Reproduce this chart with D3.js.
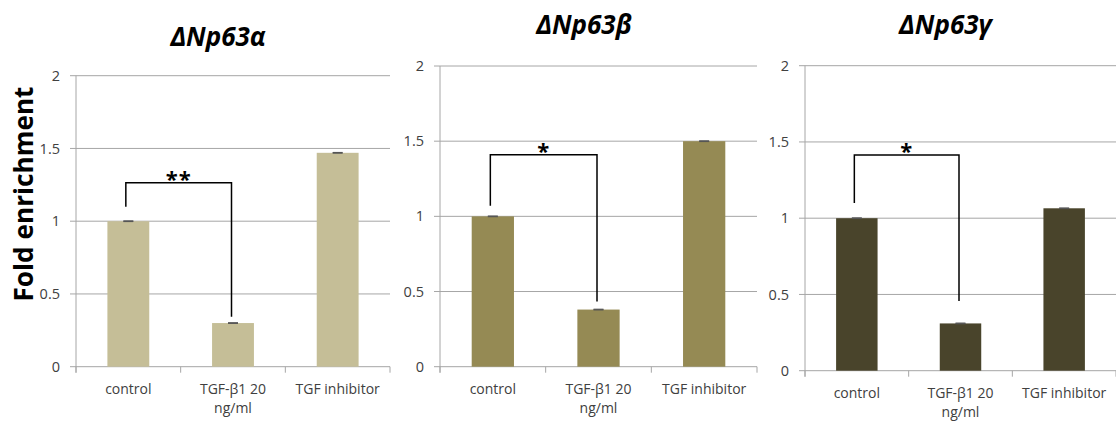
<!DOCTYPE html>
<html>
<head>
<meta charset="utf-8">
<script src="https://cdn.jsdelivr.net/npm/d3@7"></script>
<style>
  html, body { margin: 0; padding: 0; background: #fff; }
  svg { display: block; }
</style>
</head>
<body>
<svg id="chart" width="1116" height="421"></svg>
<script>
// Fold enrichment of ΔNp63 isoforms under TGF-β treatment
const categories = ["control", "TGF-β1 20\nng/ml", "TGF inhibitor"];
const yTicks = [0, 0.5, 1, 1.5, 2];

const alphaValues = [1.00, 0.30, 1.47];
const betaValues  = [1.00, 0.38, 1.50];
const gammaValues = [1.00, 0.31, 1.065];
const errorValues = [0.002, 0.002, 0.002];

const panelTitles = ["ΔNp63α", "ΔNp63β", "ΔNp63γ"];
const panelColors = ["#c5be97", "#958a54", "#49442b"];
// significance brackets: [left foot, top, right foot] in fold units, plus label
const brackets = [
  { feet: [1.10, 1.265, 0.344], label: "**" },
  { feet: [1.07, 1.41, 0.433],  label: "*" },
  { feet: [1.10, 1.414, 0.457], label: "*" }
];
const seriesValues = [alphaValues, betaValues, gammaValues];

// panel frames (pixel layout)
const frames = [
  { left: 76,  right: 390,  bottom: 366.7, top: 75.7, titleX: 218,   titleY: 46 },
  { left: 440, right: 757,  bottom: 366.7, top: 66,   titleX: 584,   titleY: 34 },
  { left: 805, right: 1116, bottom: 370.7, top: 65.7, titleX: 945.5, titleY: 34 }
];

const svg = d3.select("#chart");
const gridColor = "#a6a6a6";
const textFont = "'Open Sans', sans-serif";

frames.forEach((f, i) => {
  const values = seriesValues[i];
  const x = d3.scaleBand().domain(categories).range([f.left, f.right]).padding(0);
  const y = d3.scaleLinear().domain([0, 2]).range([f.bottom, f.top]);
  const g = svg.append("g");

  // horizontal gridlines with short ticks to the left of the axis
  g.selectAll("line.grid").data(yTicks).join("line")
    .attr("x1", f.left - 6).attr("x2", f.right)
    .attr("y1", d => y(d)).attr("y2", d => y(d))
    .attr("stroke", gridColor).attr("stroke-width", 1);

  // y axis line
  g.append("line")
    .attr("x1", f.left).attr("x2", f.left)
    .attr("y1", y(2)).attr("y2", y(0) + 6)
    .attr("stroke", gridColor).attr("stroke-width", 1);

  // x-axis category boundary ticks
  const bounds = categories.map(c => x(c)).concat([f.right]);
  g.selectAll("line.xtick").data(bounds).join("line")
    .attr("x1", d => d).attr("x2", d => d)
    .attr("y1", y(0)).attr("y2", y(0) + 6)
    .attr("stroke", gridColor).attr("stroke-width", 1);

  // y tick labels
  g.selectAll("text.ytl").data(yTicks).join("text")
    .attr("x", f.left - 16).attr("y", d => y(d))
    .attr("dy", "0.35em")
    .attr("text-anchor", "end")
    .attr("font-family", textFont).attr("font-size", 14.5)
    .attr("fill", "#404040")
    .text(d => d3.format("~g")(d));

  // bars
  const barW = x.bandwidth() * 0.4;
  g.selectAll("rect.bar").data(values).join("rect")
    .attr("x", (d, k) => x(categories[k]) + (x.bandwidth() - barW) / 2)
    .attr("y", d => y(d))
    .attr("width", barW)
    .attr("height", d => y(0) - y(d))
    .attr("fill", panelColors[i]);

  // error bars (very small spread)
  values.forEach((v, k) => {
    const cx = x(categories[k]) + x.bandwidth() / 2;
    const e = errorValues[k];
    [v - e, v + e].forEach(ev => {
      g.append("line")
        .attr("x1", cx - 5).attr("x2", cx + 5)
        .attr("y1", y(ev)).attr("y2", y(ev))
        .attr("stroke", "#555").attr("stroke-width", 1.2);
    });
  });

  // category labels
  categories.forEach(c => {
    const t = g.append("text")
      .attr("x", x(c) + x.bandwidth() / 2)
      .attr("y", y(0) + 27.5)
      .attr("text-anchor", "middle")
      .attr("font-family", textFont).attr("font-size", 14)
      .attr("fill", "#404040");
    c.split("\n").forEach((line, li) => {
      t.append("tspan")
        .attr("x", x(c) + x.bandwidth() / 2)
        .attr("dy", li === 0 ? 0 : 19)
        .text(line);
    });
  });

  // significance bracket between control and TGF-β1
  const b = brackets[i];
  const xl = x(categories[0]) + x.bandwidth() / 2 - 2.5;
  const xr = x(categories[1]) + x.bandwidth() / 2 - 1.5;
  g.append("path")
    .attr("d", d3.line()([
      [xl, y(b.feet[0])], [xl, y(b.feet[1])],
      [xr, y(b.feet[1])], [xr, y(b.feet[2])]
    ]))
    .attr("fill", "none").attr("stroke", "#000").attr("stroke-width", 1.5);
  g.append("text")
    .attr("x", (xl + xr) / 2)
    .attr("y", y(b.feet[1]) + 4)
    .attr("text-anchor", "middle")
    .attr("font-family", textFont).attr("font-size", 22)
    .attr("font-weight", "bold")
    .attr("letter-spacing", 1)
    .attr("fill", "#000")
    .text(b.label);

  // panel title
  svg.append("text")
    .attr("x", f.titleX).attr("y", f.titleY)
    .attr("text-anchor", "middle")
    .attr("font-family", textFont)
    .attr("font-weight", "bold").attr("font-style", "italic")
    .attr("font-size", 26)
    .attr("fill", "#000")
    .text(panelTitles[i]);
});

// shared y-axis title
svg.append("text")
  .attr("transform", "translate(33,194) rotate(-90)")
  .attr("text-anchor", "middle")
  .attr("font-family", textFont)
  .attr("font-weight", "bold")
  .attr("font-size", 27)
  .attr("textLength", 215).attr("lengthAdjust", "spacingAndGlyphs")
  .attr("fill", "#000")
  .text("Fold enrichment");
</script>
</body>
</html>
